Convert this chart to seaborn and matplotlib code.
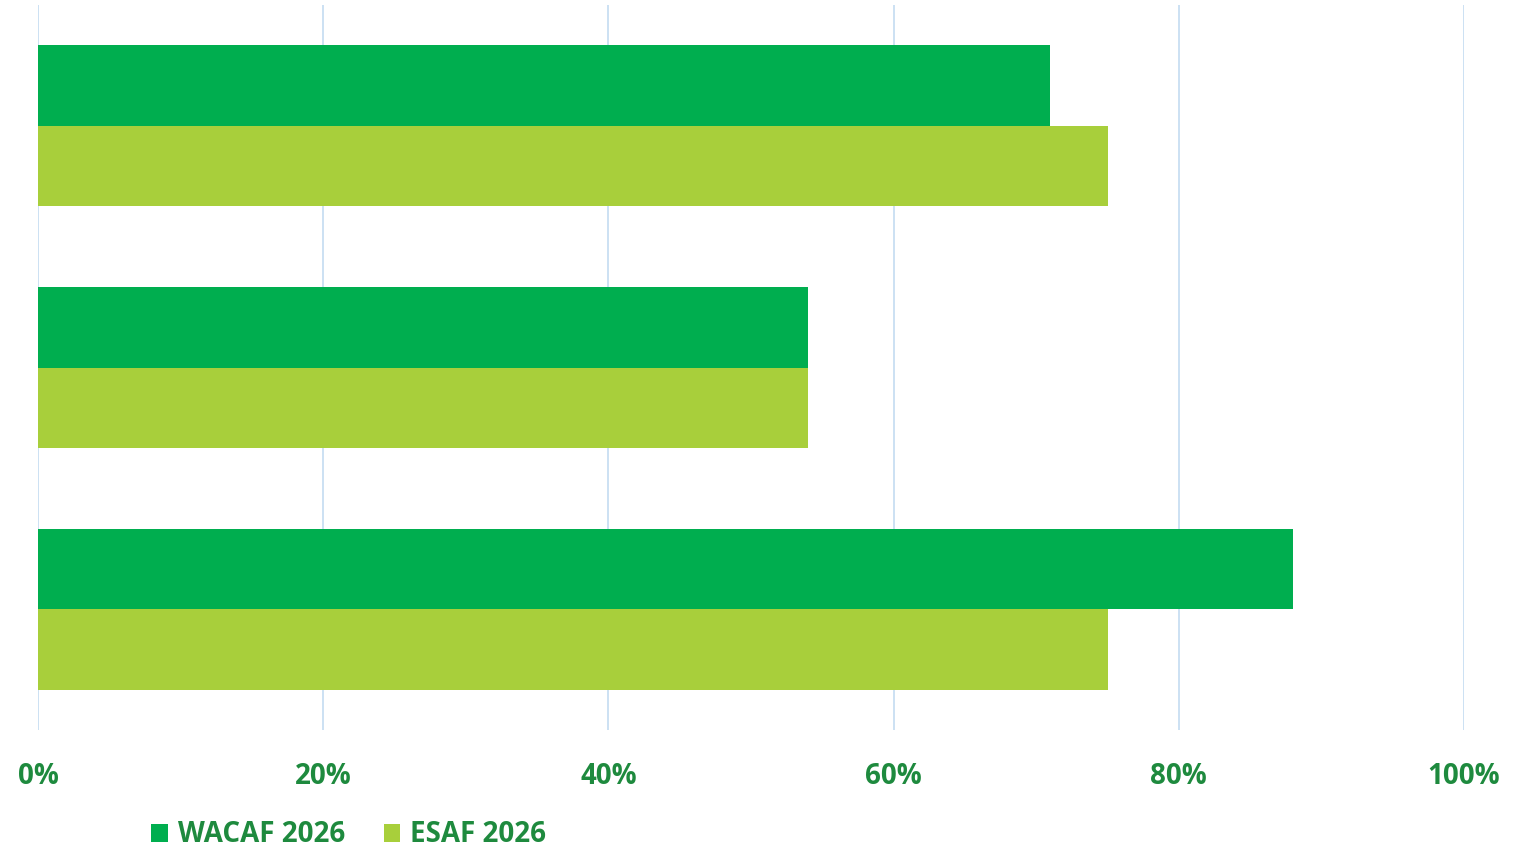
import pandas as pd
import seaborn as sns
import matplotlib.pyplot as plt
from matplotlib.ticker import PercentFormatter

# Values (labels on the left are cut off in the source)
categories = ['Objectives', 'Targets', 'Milestones']
series = ['WACAF 2026', 'ESAF 2026']
wacaf = [71, 54, 88]
esaf = [75, 54, 75]

colors = ['#00AE4F', '#A8CF3B']
text_green = '#1E8A3E'

df = pd.DataFrame({
    'category': categories * 2,
    'series': [series[0]] * len(categories) + [series[1]] * len(categories),
    'value': wacaf + esaf,
})

sns.set_style('white')
plt.rcParams['font.family'] = ['Open Sans', 'DejaVu Sans']
plt.rcParams['font.weight'] = 'bold'

fig = plt.figure(figsize=(15.24, 8.52), dpi=100)
ax = fig.add_axes([38 / 1524, 1 - 730 / 852, (1464 - 38) / 1524, (730 - 5) / 852])

sns.barplot(data=df, y='category', x='value', hue='series', order=categories,
            hue_order=series, palette=colors, orient='h', width=0.665,
            saturation=1, ax=ax, legend=True, linewidth=0)

ax.set_xlim(0, 100)
ax.set_ylim(2.5, -0.5)
ax.set_xticks(range(0, 101, 20))
ax.xaxis.set_major_formatter(PercentFormatter(decimals=0))
ax.grid(axis='x', color='#C8DEF2', linewidth=1.3)
ax.set_axisbelow(True)
for s in ax.spines.values():
    s.set_visible(False)
ax.set_xlabel('')
ax.set_ylabel('')
ax.tick_params(axis='x', length=0, pad=23, labelsize=20, labelcolor=text_green)
ax.tick_params(axis='y', length=0, pad=33, labelsize=20, labelcolor=text_green)
for t in ax.get_xticklabels() + ax.get_yticklabels():
    t.set_fontweight('bold')

leg = ax.legend(loc='center left', bbox_to_anchor=(140 / 1524, 1 - 835 / 852),
                bbox_transform=fig.transFigure, ncol=2, frameon=False,
                handlelength=0.6, handleheight=0.6, handletextpad=0.35,
                columnspacing=1.4, borderaxespad=0,
                prop={'size': 20, 'weight': 'bold'})
for t in leg.get_texts():
    t.set_color(text_green)

fig.savefig('out.png', dpi=100)
